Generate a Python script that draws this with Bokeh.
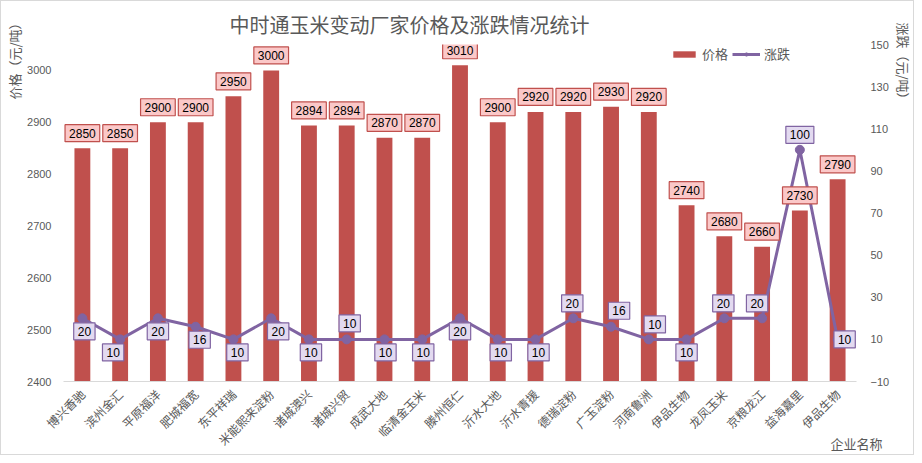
import math
from bokeh.plotting import figure
from bokeh.models import (Range1d, LinearAxis, FixedTicker, ColumnDataSource,
                          Legend, LegendItem, Title)
from bokeh.core.properties import value
from bokeh.embed import file_html
from bokeh.resources import INLINE

# ---------------- data ----------------
companies = ["博兴香驰", "滨州金汇", "平原福洋", "肥城福宽", "东平祥瑞", "米能熙来淀粉",
             "诸城澳兴", "诸城兴贸", "成武大地", "临清金玉米", "滕州恒仁", "沂水大地",
             "沂水青援", "德瑞淀粉", "广玉淀粉", "河南鲁洲", "伊品生物", "龙凤玉米",
             "京粮龙江", "益海嘉里", "伊品生物"]
prices = [2850, 2850, 2900, 2900, 2950, 3000, 2894, 2894, 2870, 2870, 3010,
          2900, 2920, 2920, 2930, 2920, 2740, 2680, 2660, 2730, 2790]
changes = [20, 10, 20, 16, 10, 20, 10, 10, 10, 10, 20,
           10, 10, 20, 16, 10, 10, 20, 20, 100, 10]
price_ticks = [2400, 2500, 2600, 2700, 2800, 2900, 3000]
change_ticks = [-10, 10, 30, 50, 70, 90, 110, 130, 150]

title_text = "中时通玉米变动厂家价格及涨跌情况统计"
series_names = ["价格", "涨跌"]
left_title = "价格（元/吨）"
right_title = "涨跌（元/吨）"
x_title = "企业名称"

# label placement (layout only, pixels)
chg_dx = [2, -7, 0, 4, 4, 7, 2, 3, 1, 1, 0, 3, 3, -1, 8, 6, 0, -1, -5, 0, 7]
chg_dy = [13, 13, 13, 13, 13, 13, 13, -16, 13, 13, 13, 13, 13, -15, -16, -15, 13, -15, -15, -15, 0]

# ---------------- styling ----------------
BAR = "#C0504D"
LINE = "#8064A2"
GREY = "#595959"
CJK = "Noto Sans CJK SC"
NUM = "Liberation Sans"

n = len(companies)
xs = list(range(n))

src = ColumnDataSource(dict(x=xs, price=prices, change=changes,
                            price_txt=[str(v) for v in prices],
                            change_txt=[str(v) for v in changes],
                            dx=chg_dx, dy=chg_dy))

p = figure(width=914, height=455, output_backend="svg", toolbar_location=None,
           x_range=Range1d(-0.5, n - 0.5), y_range=Range1d(2400, 3050),
           min_border_left=56, min_border_right=45, min_border_top=43,
           min_border_bottom=74)
p.extra_y_ranges = {"chg": Range1d(-10, 150)}
p.outline_line_color = None
p.xgrid.visible = False
p.ygrid.visible = False
p.background_fill_color = "white"
p.border_fill_color = "white"
p.styles = {"border": "1px solid #D9D9D9"}

# title
p.title.text = title_text
p.title.align = "left"
p.title.offset = 166
p.title.standoff = 12
p.title.text_font = CJK
p.title.text_font_size = "20px"
p.title.text_font_style = "normal"
p.title.text_color = GREY

# bars
bars = p.vbar(x="x", top="price", bottom=2400, width=0.42, source=src,
              fill_color=BAR, line_color=None)
# line
ln = p.line(x="x", y="change", source=src, line_color=LINE, line_width=3,
            y_range_name="chg")
pts = p.scatter(x="x", y="change", source=src, size=9, fill_color=LINE,
                line_color=LINE, y_range_name="chg")

# bar labels
p.text(x="x", y="price", text="price_txt", source=src, y_offset=-15,
       text_align="center", text_baseline="middle", text_font=value(NUM),
       text_font_size="12px", text_color="black",
       background_fill_color="#FBC8C8", border_line_color=BAR,
       border_line_width=1.2, padding=4)
# change labels
p.text(x="x", y="change", text="change_txt", source=src, x_offset="dx",
       y_offset="dy", y_range_name="chg",
       text_align="center", text_baseline="middle", text_font=value(NUM),
       text_font_size="12px", text_color="black",
       background_fill_color="#E3DAF0", border_line_color=LINE,
       border_line_width=1.2, padding=4)

# axes
xa = p.xaxis[0]
xa.ticker = FixedTicker(ticks=xs)
xa.major_label_overrides = {i: c for i, c in enumerate(companies)}
xa.major_label_orientation = math.pi / 4
xa.major_label_text_font = CJK
xa.major_label_text_font_size = "12px"
xa.major_label_text_color = GREY
xa.axis_line_color = "#D9D9D9"
xa.major_tick_line_color = None
xa.minor_tick_line_color = None
xa.major_label_standoff = 4

ya = p.yaxis[0]
ya.ticker = FixedTicker(ticks=price_ticks)
ya.axis_line_color = None
ya.major_tick_line_color = None
ya.minor_tick_line_color = None
ya.major_label_text_font = NUM
ya.major_label_text_font_size = "11px"
ya.major_label_text_color = GREY
ya.major_label_standoff = 6

ra = LinearAxis(y_range_name="chg", ticker=FixedTicker(ticks=change_ticks))
ra.axis_line_color = None
ra.major_tick_line_color = None
ra.minor_tick_line_color = None
ra.major_label_text_font = NUM
ra.major_label_text_font_size = "11px"
ra.major_label_text_color = GREY
ra.major_label_standoff = 8
p.add_layout(ra, "right")

# axis titles
p.add_layout(Title(text=left_title, align="right", offset=-28, standoff=2,
                   text_font=CJK, text_font_size="13px",
                   text_font_style="normal", text_color=GREY), "left")
p.add_layout(Title(text=right_title, align="left", offset=-22, standoff=2,
                   text_font=CJK, text_font_size="13px",
                   text_font_style="normal", text_color=GREY), "right")

# x-axis name, bottom right
xa.axis_label = x_title
xa.axis_label_align = "end"
xa.axis_label_standoff = -23
xa.axis_label_text_font = CJK
xa.axis_label_text_font_size = "13px"
xa.axis_label_text_font_style = "normal"
xa.axis_label_text_color = GREY

# legend
leg = Legend(items=[LegendItem(label=series_names[0], renderers=[bars]),
                    LegendItem(label=series_names[1], renderers=[ln, pts])],
             orientation="horizontal", location=(607, 318),
             label_text_font=CJK, label_text_font_size="13px",
             label_text_color=GREY, glyph_width=28, glyph_height=8,
             label_height=18, label_standoff=4, spacing=4, padding=0, margin=0,
             border_line_color=None, background_fill_alpha=0)
p.add_layout(leg, "center")

open("out.html", "w").write(file_html(p, INLINE))
